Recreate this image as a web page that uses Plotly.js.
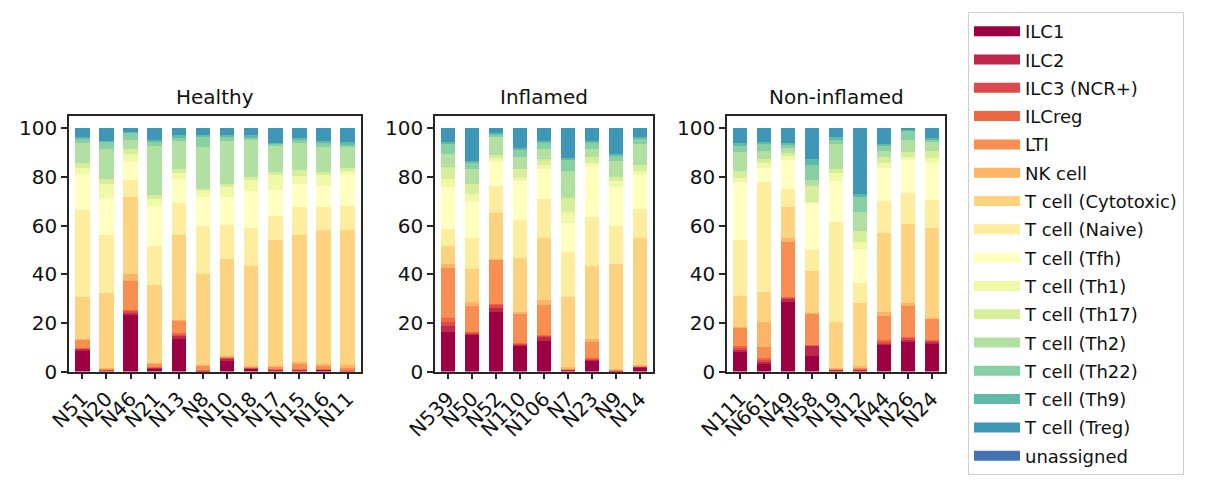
<!DOCTYPE html>
<html>
<head>
<meta charset="utf-8">
<script src="https://cdn.plot.ly/plotly-3.0.1.min.js"></script>
<style>html,body{margin:0;padding:0;background:#fff;}#chart{width:1206px;height:489px;}</style>
</head>
<body>
<div id="chart"></div>
<script>
// ---- data ----
const cellTypes = ["ILC1","ILC2","ILC3 (NCR+)","ILCreg","LTI","NK cell","T cell (Cytotoxic)","T cell (Naive)","T cell (Tfh)","T cell (Th1)","T cell (Th17)","T cell (Th2)","T cell (Th22)","T cell (Th9)","T cell (Treg)","unassigned"];
const colors = ["#9e0142","#c0274a","#dd4a4c","#f06744","#f88e52","#fdb466","#fed380","#feec9f","#ffffbf","#eff9a7","#d7ef9b","#b2e0a2","#88cfa4","#5fbba8","#3f97b7","#4373b3"];

const panelTitles = ["Healthy","Inflamed","Non-inflamed"];

const healthySamples = ["N51","N20","N46","N21","N13","N8","N10","N18","N17","N15","N16","N11"];
// one row per sample, columns follow cellTypes (percent)
const healthyRows = [
  [8.8,0.5,0.3,0.2,3.5,0.2,17.2,35.5,14.8,2.5,2.1,8.2,2.1,0.4,3.7,0],
  [0.3,0.2,0.2,0.1,0.5,0.3,30.7,24.0,14.8,5.8,2.1,12.3,3.2,0.4,5.1,0],
  [23.2,1.0,0.7,0.3,12.1,2.9,31.7,6.6,7.5,3.3,2.0,3.7,3.1,0.4,1.5,0],
  [1.4,0.2,0.2,0.2,1.4,0.3,31.9,16.1,16.5,2.5,1.7,20.2,2.0,0.4,5.0,0],
  [13.3,1.3,0.8,0.3,5.1,0.4,35.1,12.8,9.9,2.4,1.7,11.5,1.7,0.8,2.9,0],
  [0.2,0.1,0.1,0.1,2.1,0.2,37.4,19.4,12.3,2.5,0.8,17.0,4.5,0.5,2.8,0],
  [4.7,0.5,0.6,0.1,0.4,0.2,39.9,14.0,11.5,3.8,1.2,17.7,2.1,0.4,2.9,0],
  [1.1,0.3,0.1,0.1,0.6,0.2,41.1,15.6,14.9,4.5,1.3,15.2,1.3,0.8,2.9,0],
  [0.6,0.2,0.1,0.1,0.9,0.4,51.9,9.9,10.3,6.2,1.2,10.8,1.2,0.3,5.9,0],
  [0.6,0.1,0.1,0.1,2.5,0.5,52.4,11.1,9.5,3.3,2.5,11.1,1.7,0.4,4.1,0],
  [0.7,0.1,0.1,0.1,1.6,0.6,55.1,9.5,8.3,4.5,1.2,10.4,2.0,0.4,5.4,0],
  [0.3,0.1,0.1,0.1,1.2,0.8,55.7,9.9,12.8,1.7,0.8,8.7,1.2,0.8,5.8,0]
];

const inflamedSamples = ["N539","N50","N52","N110","N106","N7","N23","N9","N14"];
const inflamedRows = [
  [16.2,2.5,1.7,1.6,20.6,1.7,7.4,7.0,17.0,3.3,4.9,5.4,4.5,0.4,5.8,0],
  [15.0,0.8,0.4,0.2,10.6,1.6,13.6,12.8,14.5,3.3,4.1,6.2,2.9,0.4,13.6,0],
  [24.5,1.6,1.3,0.3,18.2,0.5,18.9,10.8,9.9,1.6,1.3,7.4,1.2,0.4,2.1,0],
  [10.5,0.4,0.4,0.4,12.0,0.8,22.3,15.6,15.7,1.3,3.7,4.9,3.3,0.4,8.3,0],
  [12.5,1.7,0.4,0.3,12.5,2.0,25.6,15.7,12.4,1.6,2.5,4.1,2.9,0.4,5.4,0],
  [0.4,0.3,0.1,0.2,0.4,0.4,28.9,18.5,12.0,4.5,5.4,11.2,4.9,0.4,12.4,0],
  [4.7,0.4,0.2,0.2,6.6,1.2,30.2,20.2,20.6,1.3,2.4,3.3,2.9,0.4,5.4,0],
  [0.2,0.05,0.05,0.1,0.3,0.3,43.3,15.7,15.7,2.4,1.7,6.6,2.5,0.4,10.7,0],
  [1.8,0.1,0.1,0.1,0.3,0.2,52.4,11.6,14.0,1.7,2.4,8.7,2.5,0.4,3.7,0]
];

const noninflamedSamples = ["N111","N661","N49","N58","N19","N12","N44","N26","N24"];
const noninflamedRows = [
  [8.4,0.8,0.8,0.5,7.4,0.4,12.8,23.1,23.5,1.7,2.9,7.8,2.9,0.8,6.2,0],
  [3.0,1.3,0.8,0.3,4.6,10.4,12.3,45.0,5.8,2.1,1.6,3.3,3.3,0.4,5.8,0],
  [28.6,1.2,0.5,0.3,22.8,1.6,12.8,7.4,11.6,1.6,1.3,2.0,1.7,0.4,6.2,0],
  [6.3,4.2,0.2,0.2,12.8,0.2,17.5,8.7,19.4,0.3,6.3,2.4,6.2,2.5,12.8,0],
  [0.6,0.2,0.1,0.1,0.4,0.2,18.8,41.2,16.5,3.3,1.7,10.3,2.1,0.8,3.7,0],
  [0.6,0.2,0.2,0.2,0.6,0.4,26.0,8.3,14.0,2.9,4.5,7.8,6.2,0.9,27.2,0],
  [10.9,0.8,0.8,0.3,10.0,1.7,32.6,12.8,13.6,2.1,2.4,2.5,2.5,0.4,6.6,0],
  [12.1,1.2,0.5,0.2,13.0,1.2,32.6,12.4,14.0,0.8,2.1,4.9,4.2,0.1,0.7,0],
  [11.3,1.2,0.4,0.2,8.5,0.2,37.3,11.2,15.4,1.9,2.9,3.7,1.3,0.4,4.1,0]
];

const yTicks = [0,20,40,60,80,100];

// ---- build ----
const W = 1206, H = 489;
const FONT = "DejaVu Sans, Liberation Sans, sans-serif";
const panels = [
  {samples: healthySamples, rows: healthyRows, xa: "x", ya: "y"},
  {samples: inflamedSamples, rows: inflamedRows, xa: "x2", ya: "y2"},
  {samples: noninflamedSamples, rows: noninflamedRows, xa: "x3", ya: "y3"}
];

const traces = [];
panels.forEach((p) => {
  cellTypes.forEach((ct, ci) => {
    traces.push({
      type: "bar",
      x: p.samples,
      y: p.rows.map(r => r[ci]),
      name: ct,
      legendgroup: ct,
      showlegend: false,
      xaxis: p.xa, yaxis: p.ya,
      width: 0.6,
      marker: {color: colors[ci], line: {width: 0}},
      hovertemplate: "%{x}<br>" + ct + ": %{y}<extra></extra>"
    });
  });
});
// legend entries (wide swatches like matplotlib)
cellTypes.forEach((ct, ci) => {
  traces.push({
    type: "scatter", mode: "lines",
    x: [null], y: [null],
    name: ct, legendgroup: ct, showlegend: true,
    xaxis: "x", yaxis: "y",
    line: {color: colors[ci], width: 13},
    hoverinfo: "skip"
  });
});

const px = v => v / W;
const py = v => 1 - v / H;
const xDomains = [[px(69), px(361)], [px(435), px(653)], [px(727), px(945)]];
const yDomain = [py(371.5), py(116)];

const axisCommon = {
  showline: true, mirror: true, linecolor: "#262626", linewidth: 1.5,
  ticks: "outside", ticklen: 6, tickwidth: 1.5, tickcolor: "#262626",
  showgrid: false, zeroline: false,
  tickfont: {family: FONT, size: 20, color: "#111"}
};

const layout = {
  width: W, height: H,
  margin: {l: 0, r: 0, t: 0, b: 0},
  paper_bgcolor: "#fff", plot_bgcolor: "#fff",
  barmode: "stack",
  font: {family: FONT, color: "#111"},
  showlegend: true,
  legend: {
    x: px(968), y: py(12), xanchor: "left", yanchor: "top",
    bgcolor: "#fff", bordercolor: "#d0d0d0", borderwidth: 1,
    font: {family: FONT, size: 18, color: "#111"},
    itemwidth: 46, tracegroupgap: 1.9, traceorder: "grouped",
    itemclick: "toggle"
  },
  annotations: [],
  hovermode: "closest"
};

panels.forEach((p, i) => {
  const sfx = i === 0 ? "" : String(i + 1);
  layout["xaxis" + sfx] = Object.assign({}, axisCommon, {
    domain: xDomains[i], anchor: "y" + sfx,
    type: "category", range: [-0.55, p.samples.length - 0.45],
    tickmode: "array", tickvals: p.samples, ticktext: p.samples,
    tickangle: -45
  });
  layout["yaxis" + sfx] = Object.assign({}, axisCommon, {
    domain: yDomain, anchor: "x" + sfx,
    range: [0, 105], tickvals: yTicks, ticktext: yTicks.map(String)
  });
  layout.annotations.push({
    text: panelTitles[i], showarrow: false,
    xref: "paper", yref: "paper",
    x: (xDomains[i][0] + xDomains[i][1]) / 2, y: py(97),
    xanchor: "center", yanchor: "middle",
    font: {family: FONT, size: 20, color: "#111"}
  });
});

Plotly.newPlot("chart", traces, layout, {displayModeBar: false, responsive: false});
</script>
</body>
</html>
